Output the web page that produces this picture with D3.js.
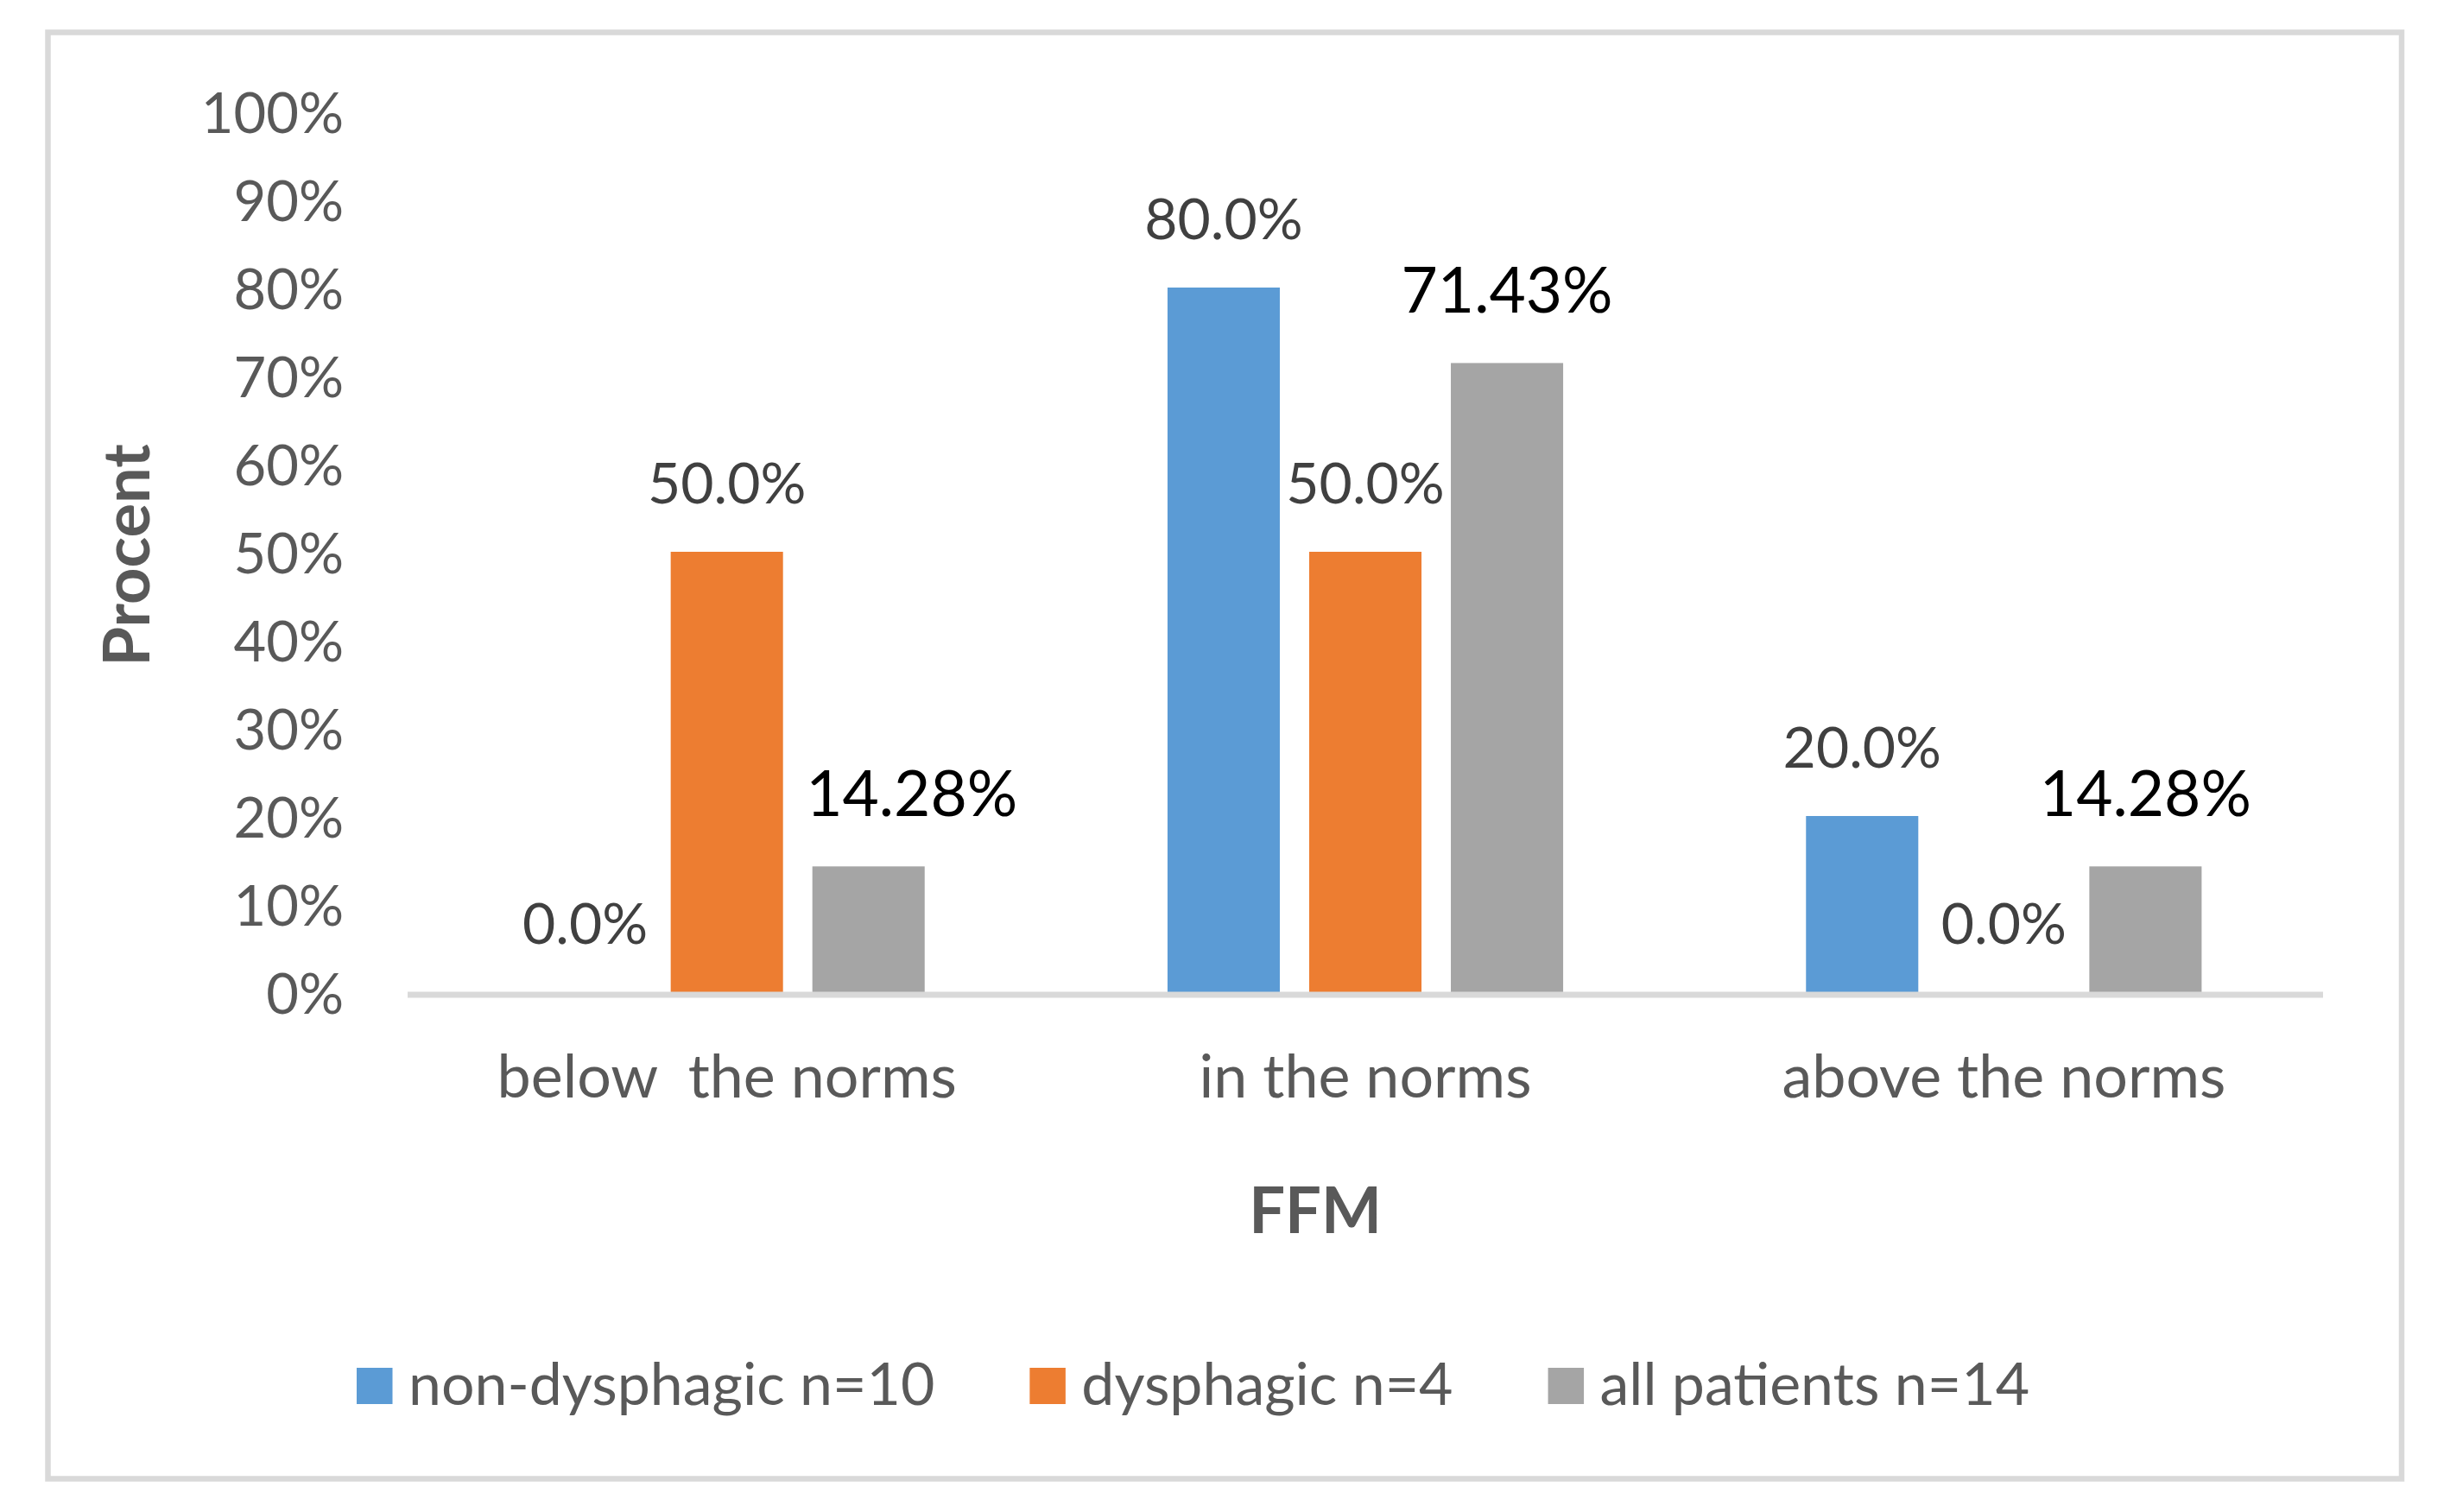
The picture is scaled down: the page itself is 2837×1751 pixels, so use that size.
<!DOCTYPE html>
<html>
<head>
<meta charset="utf-8">
<script src="https://cdn.jsdelivr.net/npm/d3@7"></script>
<style>
  html, body { margin: 0; padding: 0; background: #ffffff; }
  svg { display: block; }
  text { font-family: Lato, "Open Sans", sans-serif; }
</style>
</head>
<body>
<svg id="chart" width="2837" height="1751"></svg>
<script>
// ---- data ----
const categories = ["below  the norms", "in the norms", "above the norms"];
const seriesNames = ["non-dysphagic n=10", "dysphagic n=4", "all patients n=14"];
const nonDysphagic = [0.0, 80.0, 20.0];
const dysphagic = [50.0, 50.0, 0.0];
const allPatients = [14.28, 71.43, 14.28];
const nonDysphagicLabels = ["0.0%", "80.0%", "20.0%"];
const dysphagicLabels = ["50.0%", "50.0%", "0.0%"];
const allPatientsLabels = ["14.28%", "71.43%", "14.28%"];
const yTicks = [0, 10, 20, 30, 40, 50, 60, 70, 80, 90, 100];
const seriesColors = ["#5B9BD5", "#ED7D31", "#A5A5A5"];

const seriesValues = [nonDysphagic, dysphagic, allPatients];
const seriesLabels = [nonDysphagicLabels, dysphagicLabels, allPatientsLabels];

// ---- layout ----
const svg = d3.select("#chart");
const W = 2837, H = 1751;
svg.append("rect").attr("x", 0).attr("y", 0).attr("width", W).attr("height", H).attr("fill", "#fff");

// chart border
svg.append("rect")
  .attr("x", 55.5).attr("y", 37.5)
  .attr("width", 2781 - 55.5).attr("height", 1712.5 - 37.5)
  .attr("fill", "none").attr("stroke", "#D9D9D9").attr("stroke-width", 6.5);

const plot = { left: 472, right: 2690, top: 129, bottom: 1149 };

const x0 = d3.scaleBand().domain(d3.range(categories.length))
  .range([plot.left, plot.right]).paddingInner(0).paddingOuter(0);
const groupPad = 140.6;
const x1 = d3.scaleBand().domain(d3.range(seriesNames.length))
  .range([groupPad, x0.bandwidth() - groupPad]).paddingInner(34 / 164).paddingOuter(0);
const y = d3.scaleLinear().domain([0, 100]).range([plot.bottom, plot.top]);

// y-axis tick labels
const yAxis = d3.axisLeft(y).tickValues(yTicks).tickFormat(d => d + "%").tickSize(0).tickPadding(0);
const gy = svg.append("g").attr("transform", `translate(398,0)`).call(yAxis);
gy.select(".domain").remove();
gy.selectAll("text")
  .attr("x", 0).attr("dy", "0.37em")
  .attr("fill", "#595959").attr("font-size", 65)
  .style("font-family", "Lato, 'Open Sans', sans-serif");

// bars
const groups = svg.append("g").selectAll("g")
  .data(categories.map((c, i) => i)).join("g")
  .attr("transform", i => `translate(${x0(i)},0)`);

seriesValues.forEach((vals, s) => {
  groups.append("rect")
    .attr("x", x1(s))
    .attr("width", x1.bandwidth())
    .attr("y", i => y(vals[i]))
    .attr("height", i => y(0) - y(vals[i]))
    .attr("fill", seriesColors[s]);
});

// data labels (the first "all patients" label was nudged right in the original)
seriesLabels.forEach((labs, s) => {
  const big = s === 2;
  groups.append("text")
    .attr("x", i => x1(s) + x1.bandwidth() / 2 + (big && i === 0 ? 50 : 0))
    .attr("y", i => y(seriesValues[s][i]) - (big ? 58 : 56))
    .attr("text-anchor", "middle")
    .attr("font-size", big ? 73 : 66)
    .attr("fill", big ? "#000000" : "#404040")
    .text(i => labs[i]);
});

// x axis line
svg.append("line")
  .attr("x1", plot.left).attr("x2", plot.right)
  .attr("y1", y(0) + 3).attr("y2", y(0) + 3)
  .attr("stroke", "#D9D9D9").attr("stroke-width", 7);

// category labels
const xAxis = d3.axisBottom(x0).tickFormat(i => categories[i]).tickSize(0).tickPadding(0);
const gx = svg.append("g").attr("transform", `translate(0,${y(0)})`).call(xAxis);
gx.select(".domain").remove();
gx.selectAll("text")
  .attr("y", 122).attr("dy", 0)
  .attr("fill", "#595959").attr("font-size", 70)
  .style("font-family", "Lato, 'Open Sans', sans-serif")
  .style("white-space", "pre");

// axis titles
svg.append("text")
  .attr("x", 1523).attr("y", 1428)
  .attr("text-anchor", "middle")
  .attr("font-size", 74).attr("font-weight", "bold")
  .attr("fill", "#595959")
  .text("FFM");

svg.append("text")
  .attr("transform", "translate(173,643) rotate(-90)")
  .attr("text-anchor", "middle")
  .attr("font-size", 74).attr("font-weight", "bold")
  .attr("fill", "#595959")
  .text("Procent");

// legend
const legend = svg.append("g");
let lx = 413;
seriesNames.forEach((name, s) => {
  legend.append("rect")
    .attr("x", lx).attr("y", 1584)
    .attr("width", 41.5).attr("height", 42)
    .attr("fill", seriesColors[s]);
  const t = legend.append("text")
    .attr("x", lx + 60).attr("y", 1627)
    .attr("font-size", 68).attr("fill", "#595959")
    .text(name);
  const len = t.node().getComputedTextLength();
  lx = lx + 60 + len + 110;
});
</script>
</body>
</html>
